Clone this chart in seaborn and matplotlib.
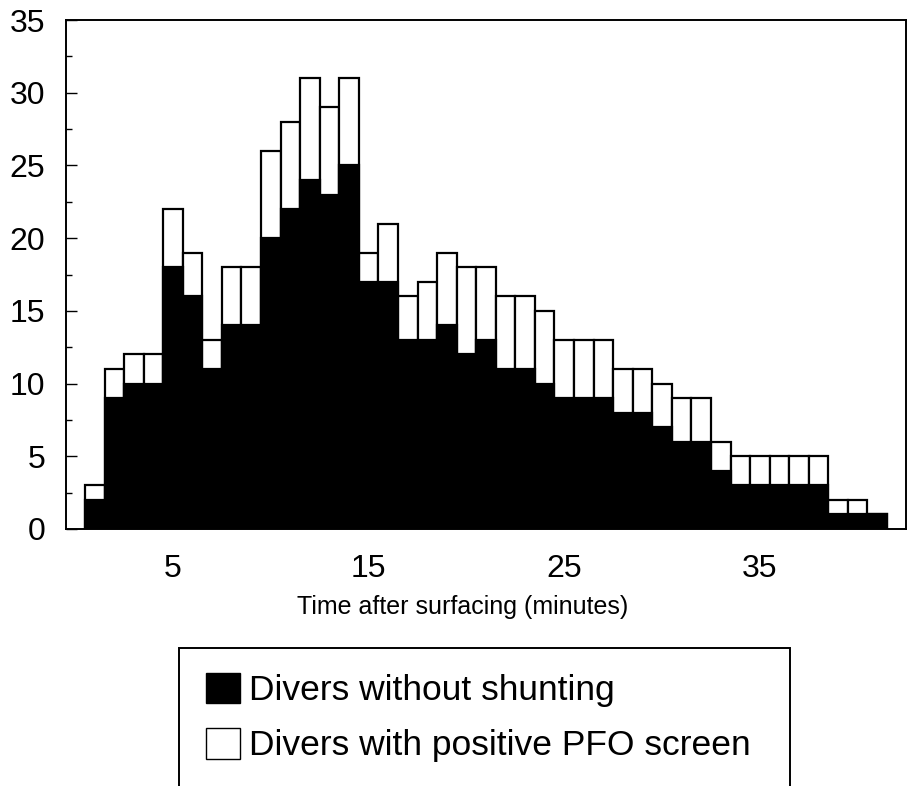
import matplotlib
matplotlib.use("Agg")
import matplotlib.pyplot as plt
from matplotlib.patches import Rectangle, Patch
from matplotlib.ticker import MultipleLocator
import pandas as pd
import seaborn as sns

# Minutes after surfacing (one bin per minute)
minutes = list(range(1, 42))
# All divers with bubbles detected in each minute bin
total_divers = [3, 11, 12, 12, 22, 19, 13, 18, 18, 26, 28, 31, 29, 31, 19, 21, 16, 17,
                19, 18, 18, 16, 16, 15, 13, 13, 13, 11, 11, 10, 9, 9, 6, 5, 5, 5, 5, 5,
                2, 2, 1]
# Of those, divers without shunting
no_shunt = [2, 9, 10, 10, 18, 16, 11, 14, 14, 20, 22, 24, 23, 25, 17, 17, 13, 13,
            14, 12, 13, 11, 11, 10, 9, 9, 9, 8, 8, 7, 6, 6, 4, 3, 3, 3, 3, 3,
            1, 1, 1]
x_ticks = [5, 15, 25, 35]
legend_labels = ["Divers without shunting", "Divers with positive PFO screen"]

df = pd.DataFrame({"minute": minutes, "total": total_divers, "no_shunt": no_shunt})

sns.set_style("white")
plt.rcParams["font.family"] = ["Liberation Sans", "DejaVu Sans"]
plt.rcParams["text.color"] = "black"
plt.rcParams["xtick.color"] = "black"
plt.rcParams["ytick.color"] = "black"
plt.rcParams["axes.labelcolor"] = "black"

fig = plt.figure(figsize=(9.09, 7.86), dpi=100)
ax = fig.add_axes([66 / 909, 1 - 529 / 786, 840 / 909, 509 / 786])

# Full bar height = all divers (white), overlaid by the non-shunting part (black)
sns.barplot(data=df, x="minute", y="total", native_scale=True, width=1,
            color="white", edgecolor="black", linewidth=1.6, saturation=1,
            errorbar=None, ax=ax)
sns.barplot(data=df, x="minute", y="no_shunt", native_scale=True, width=1,
            color="black", edgecolor="black", linewidth=1.6, saturation=1,
            errorbar=None, ax=ax)

ax.set_xlim(-0.47, 42.47)
ax.set_ylim(0, 35)
ax.set_xticks(x_ticks)
ax.set_xticklabels([str(t) for t in x_ticks])
ax.yaxis.set_major_locator(MultipleLocator(5))
ax.yaxis.set_minor_locator(MultipleLocator(2.5))
ax.tick_params(axis="x", length=0, pad=18, labelsize=23)
ax.tick_params(axis="y", which="major", direction="in", length=8, width=1,
               pad=15, labelsize=23, left=True)
ax.tick_params(axis="y", which="minor", direction="in", length=4, width=1, left=True)
for side in ["left", "right", "top", "bottom"]:
    ax.spines[side].set_visible(True)
    ax.spines[side].set_color("black")
    ax.spines[side].set_linewidth(1.4)
ax.set_xlabel("Time after surfacing (minutes)", fontsize=18)
ax.xaxis.set_label_coords((463 - 66) / 840, -(607 - 529) / 509)
ax.xaxis.label.set_verticalalignment("center")
ax.set_ylabel("")

# Legend box, open at the bottom of the page
fig.patches.append(Rectangle((179 / 909, -0.05), 611 / 909, 0.05 + (786 - 648) / 786,
                             transform=fig.transFigure, facecolor="none",
                             edgecolor="black", linewidth=1.4, clip_on=False))
handles = [Patch(facecolor="black", edgecolor="black", linewidth=1),
           Patch(facecolor="white", edgecolor="black", linewidth=1)]
fig.legend(handles, legend_labels, loc="upper left",
           bbox_to_anchor=(188 / 909, 1 - 655 / 786), frameon=False,
           fontsize=25.5, handlelength=0.96, handleheight=0.96, handletextpad=0.25,
           labelspacing=0.58, borderpad=0)

fig.savefig("out.png", dpi=100)
